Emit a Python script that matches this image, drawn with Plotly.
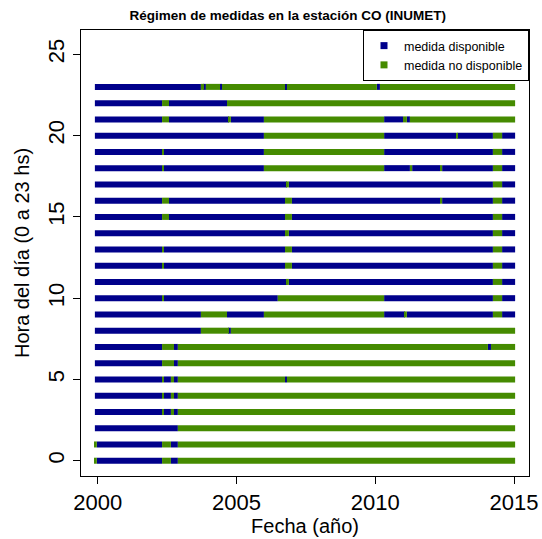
import plotly.graph_objects as go

# ---- data -------------------------------------------------------------
start_year = 1999.90
end_year = 2015.04
hours = list(range(24))
x_ticks = [2000, 2005, 2010, 2015]
y_ticks = [0, 5, 10, 15, 20, 25]
label_avail = "medida disponible"
label_missing = "medida no disponible"

# first state per hour ("B" = disponible, "G" = no disponible) and change dates (years)
h00 = ("G", [1999.97, 2002.32, 2002.64, 2002.89])
h01 = ("G", [1999.97, 2002.32, 2002.64, 2002.89])
h02 = ("B", [2002.89])
h03 = ("B", [2002.32, 2002.39, 2002.64, 2002.75, 2002.89])
h04 = ("B", [2002.32, 2002.39, 2002.64, 2002.75, 2002.89])
h05 = ("B", [2002.32, 2002.39, 2002.64, 2002.75, 2002.89, 2006.75, 2006.82])
h06 = ("B", [2002.32, 2002.75, 2002.89])
h07 = ("B", [2002.32, 2002.75, 2002.89, 2014.06, 2014.17])
h08 = ("B", [2003.72, 2004.73, 2004.80])
h09 = ("B", [2003.72, 2004.66, 2005.99, 2010.32, 2011.07, 2011.14, 2014.24, 2014.57])
h10 = ("B", [2002.32, 2002.39, 2006.49, 2010.32, 2014.24, 2014.57])
h11 = ("B", [2006.82, 2006.89, 2014.24, 2014.57])
h12 = ("B", [2002.32, 2002.39, 2006.75, 2007.00, 2014.24, 2014.57])
h13 = ("B", [2002.32, 2002.39, 2006.75, 2007.00, 2014.24, 2014.57])
h14 = ("B", [2006.75, 2006.89, 2014.24, 2014.57])
h15 = ("B", [2002.32, 2002.57, 2006.75, 2007.00, 2014.24, 2014.57])
h16 = ("B", [2002.32, 2002.57, 2006.75, 2007.00, 2012.34, 2012.41, 2014.24, 2014.57])
h17 = ("B", [2006.82, 2006.89, 2014.24, 2014.57])
h18 = ("B", [2002.32, 2002.39, 2005.99, 2010.32, 2011.25, 2011.33, 2012.34, 2012.41, 2014.24, 2014.57])
h19 = ("B", [2002.32, 2002.39, 2005.99, 2010.32, 2014.24, 2014.57])
h20 = ("B", [2005.99, 2010.32, 2012.91, 2012.96, 2014.24, 2014.57])
h21 = ("B", [2002.32, 2002.57, 2004.73, 2004.80, 2005.99, 2010.32, 2011.00, 2011.14, 2011.25])
h22 = ("B", [2002.32, 2002.57, 2004.66])
h23 = ("B", [2003.72, 2003.83, 2003.90, 2004.41, 2004.48, 2006.75, 2006.82, 2010.06, 2010.17])

changes = [h00, h01, h02, h03, h04, h05, h06, h07, h08, h09, h10, h11,
           h12, h13, h14, h15, h16, h17, h18, h19, h20, h21, h22, h23]

# ---- build segments ---------------------------------------------------
seg = {"B": {"y": [], "base": [], "len": []}, "G": {"y": [], "base": [], "len": []}}
for h, (first, brks) in zip(hours, changes):
    pts = [start_year] + brks + [end_year]
    state = first
    for a, b in zip(pts[:-1], pts[1:]):
        seg[state]["y"].append(h)
        seg[state]["base"].append(a)
        seg[state]["len"].append(b - a)
        state = "G" if state == "B" else "B"

BLUE = "#00008B"
GREEN = "#458B00"
FONT = "Liberation Sans, Arial, sans-serif"

fig = go.Figure()
for key, col in (("B", BLUE), ("G", GREEN)):
    fig.add_trace(go.Bar(
        y=seg[key]["y"], x=seg[key]["len"], base=seg[key]["base"],
        orientation="h", width=0.37, marker=dict(color=col, line=dict(width=0)),
        showlegend=False, hoverinfo="skip"))

for name, col in ((label_avail, BLUE), (label_missing, GREEN)):
    fig.add_trace(go.Scatter(
        x=[None], y=[None], mode="markers", name=name,
        marker=dict(symbol="square", size=7, color=col)))

axis_common = dict(
    showgrid=False, zeroline=False, showline=True, mirror=True,
    linecolor="black", linewidth=1, ticks="outside", ticklen=7,
    tickcolor="black", tickwidth=1,
    tickfont=dict(family=FONT, size=22, color="black"),
)

fig.update_layout(
    width=542, height=539,
    margin=dict(l=81, r=13, t=30, b=63, autoexpand=False),
    paper_bgcolor="white", plot_bgcolor="white",
    barmode="overlay",
    font=dict(family=FONT, color="black"),
    title=dict(text="<b>Régimen de medidas en la estación CO (INUMET)</b>",
               x=0.531, xanchor="center", xref="container",
               y=1 - 15 / 539, yanchor="middle",
               font=dict(family=FONT, size=13.5, color="black")),
    xaxis=dict(range=[1999.40, 2015.54], tickvals=x_ticks,
               title=dict(text="Fecha (año)", standoff=0,
                          font=dict(family=FONT, size=20, color="black")),
               **axis_common),
    yaxis=dict(range=[-0.94, 26.5], tickvals=y_ticks, tickangle=-90,
               title=dict(text="Hora del día (0 a 23 hs)", standoff=9,
                          font=dict(family=FONT, size=20, color="black")),
               **axis_common),
    legend=dict(x=1, xanchor="right", y=1, yanchor="top",
                bordercolor="black", borderwidth=1, bgcolor="white",
                font=dict(family=FONT, size=12.5, color="black"),
                itemwidth=30, tracegroupgap=0),
)

fig.write_html("out.html",
               config={"displayModeBar": False},
               post_script="document.body.style.margin='0';document.body.style.padding='0';")
